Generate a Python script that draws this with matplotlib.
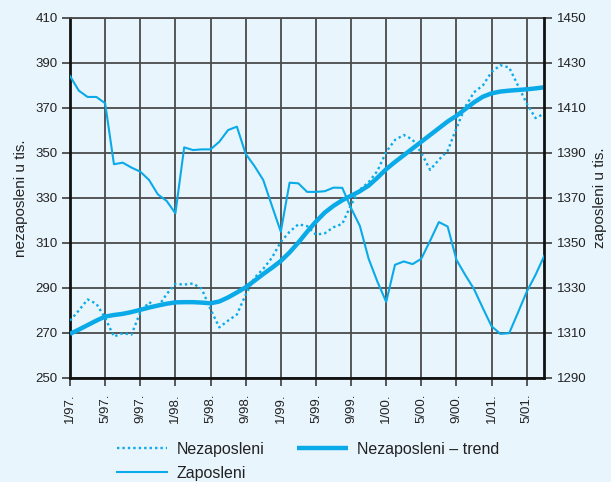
import matplotlib
matplotlib.use("Agg")
import matplotlib.pyplot as plt
import numpy as np

plt.rcParams['font.family'] = ['Liberation Sans', 'DejaVu Sans']

# Months 1/97 .. 7/01 (55 monthly points)
years = ['97', '98', '99', '00', '01']
months = [f"{m}/{y}." for y in years for m in range(1, 13)][:55]
tick_labels = months[::4]

nezaposleni = [275.5, 280.0, 284.9, 283.0, 276.7, 268.4, 269.9, 269.3, 279.2, 283.7,
               281.4, 287.3, 291.8, 291.5, 292.0, 289.6, 280.5, 272.5, 275.5, 278.2,
               287.0, 294.5, 298.5, 303.5, 310.5, 315.0, 318.3, 317.5, 313.7, 314.3,
               317.0, 318.5, 327.0, 333.7, 337.0, 342.0, 350.5, 355.8, 358.0, 356.0,
               350.0, 342.5, 347.0, 351.0, 361.0, 370.5, 377.0, 380.0, 386.0, 389.0,
               388.0, 380.0, 372.0, 365.5, 367.5]

trend = [269.6, 271.5, 273.5, 275.5, 277.3, 278.0, 278.5, 279.3, 280.3, 281.3,
         282.2, 283.0, 283.6, 283.7, 283.7, 283.5, 283.2, 284.0, 285.8, 288.0,
         290.3, 293.2, 296.2, 299.0, 302.0, 305.8, 310.2, 315.0, 319.5, 323.5,
         326.5, 329.0, 331.0, 333.0, 335.5, 339.0, 342.8, 346.0, 349.0, 352.0,
         355.0, 358.0, 361.0, 364.0, 366.5, 369.5, 372.5, 375.0, 376.5, 377.3,
         377.7, 378.0, 378.3, 378.7, 379.2]

zaposleni = [1424.2, 1417.7, 1414.9, 1414.9, 1412.1, 1385.0, 1385.7, 1383.5, 1381.7, 1378.0,
             1371.6, 1368.7, 1363.2, 1392.5, 1391.3, 1391.6, 1391.6, 1395.0, 1400.2, 1401.7,
             1389.6, 1384.2, 1378.0, 1366.4, 1355.0, 1376.8, 1376.5, 1372.7, 1372.7, 1373.0,
             1374.6, 1374.5, 1365.5, 1357.6, 1343.0, 1332.8, 1323.8, 1340.3, 1341.8, 1340.6,
             1343.0, 1351.0, 1359.3, 1357.3, 1342.5, 1335.8, 1329.5, 1321.1, 1313.0, 1309.6,
             1309.9, 1319.0, 1328.3, 1335.8, 1344.3]

left_ticks = [250, 270, 290, 310, 330, 350, 370, 390, 410]
right_ticks = [1290, 1310, 1330, 1350, 1370, 1390, 1410, 1430, 1450]

BG = '#e9f5fd'
BLUE = '#0aaae8'
GRID = '#4a4a4a'

fig = plt.figure(figsize=(6.11, 4.82), dpi=100, facecolor=BG)
ax = fig.add_axes([0.1146, 0.2158, 0.7762, 0.7469])
ax.set_facecolor(BG)

x = np.arange(len(months))

ax.set_xlim(0, len(months) - 1)
ax.set_ylim(250, 410)
ax.set_yticks(left_ticks)
ax.set_xticks(x[::4])
ax.set_xticklabels(tick_labels, rotation=90, fontsize=9.5, color='#222222')
ax.tick_params(axis='y', labelsize=9.5, colors='#222222', length=6, width=1.3, color=GRID, pad=3)
ax.tick_params(axis='x', length=6, width=1.3, color=GRID, pad=5)
ax.grid(True, color=GRID, linewidth=1.3, zorder=0)
ax.set_axisbelow(True)

for s in ['left', 'bottom']:
    ax.spines[s].set_linewidth(2.0)
    ax.spines[s].set_color('#111111')
ax.spines['top'].set_color(GRID)
ax.spines['top'].set_linewidth(1.3)
ax.spines['right'].set_visible(False)

ax2 = ax.twinx()
ax2.set_ylim(1290, 1450)
ax2.set_yticks(right_ticks)
ax2.tick_params(axis='y', labelsize=9.5, colors='#222222', length=6, width=1.3, color=GRID, pad=3)
ax2.spines['right'].set_linewidth(2.0)
ax2.spines['right'].set_color('#111111')
for s in ['left', 'top', 'bottom']:
    ax2.spines[s].set_visible(False)

l1, = ax.plot(x, nezaposleni, color=BLUE, linewidth=1.7, linestyle=(0, (1, 1.3)),
              label='Nezaposleni', zorder=3)
l3, = ax.plot(x, trend, color=BLUE, linewidth=3.2, solid_capstyle='butt',
              label='Nezaposleni – trend', zorder=4)
l2, = ax2.plot(x, zaposleni, color=BLUE, linewidth=1.5, label='Zaposleni', zorder=3)

ax.set_ylabel('nezaposleni u tis.', fontsize=11, color='#222222', labelpad=5)
ax2.set_ylabel('zaposleni u tis.', fontsize=11, color='#222222', rotation=90, labelpad=5)

leg = fig.legend([l1, l2, l3], ['Nezaposleni', 'Zaposleni', 'Nezaposleni – trend'],
                 ncol=2, loc='upper left', bbox_to_anchor=(0.1915, 0.083),
                 frameon=False, fontsize=11.5, handlelength=3.15, handletextpad=0.6,
                 columnspacing=2.05, labelspacing=0.55, borderpad=0, borderaxespad=0)
for t in leg.get_texts():
    t.set_color('#222222')

fig.savefig('out.png', dpi=100, facecolor=BG)
